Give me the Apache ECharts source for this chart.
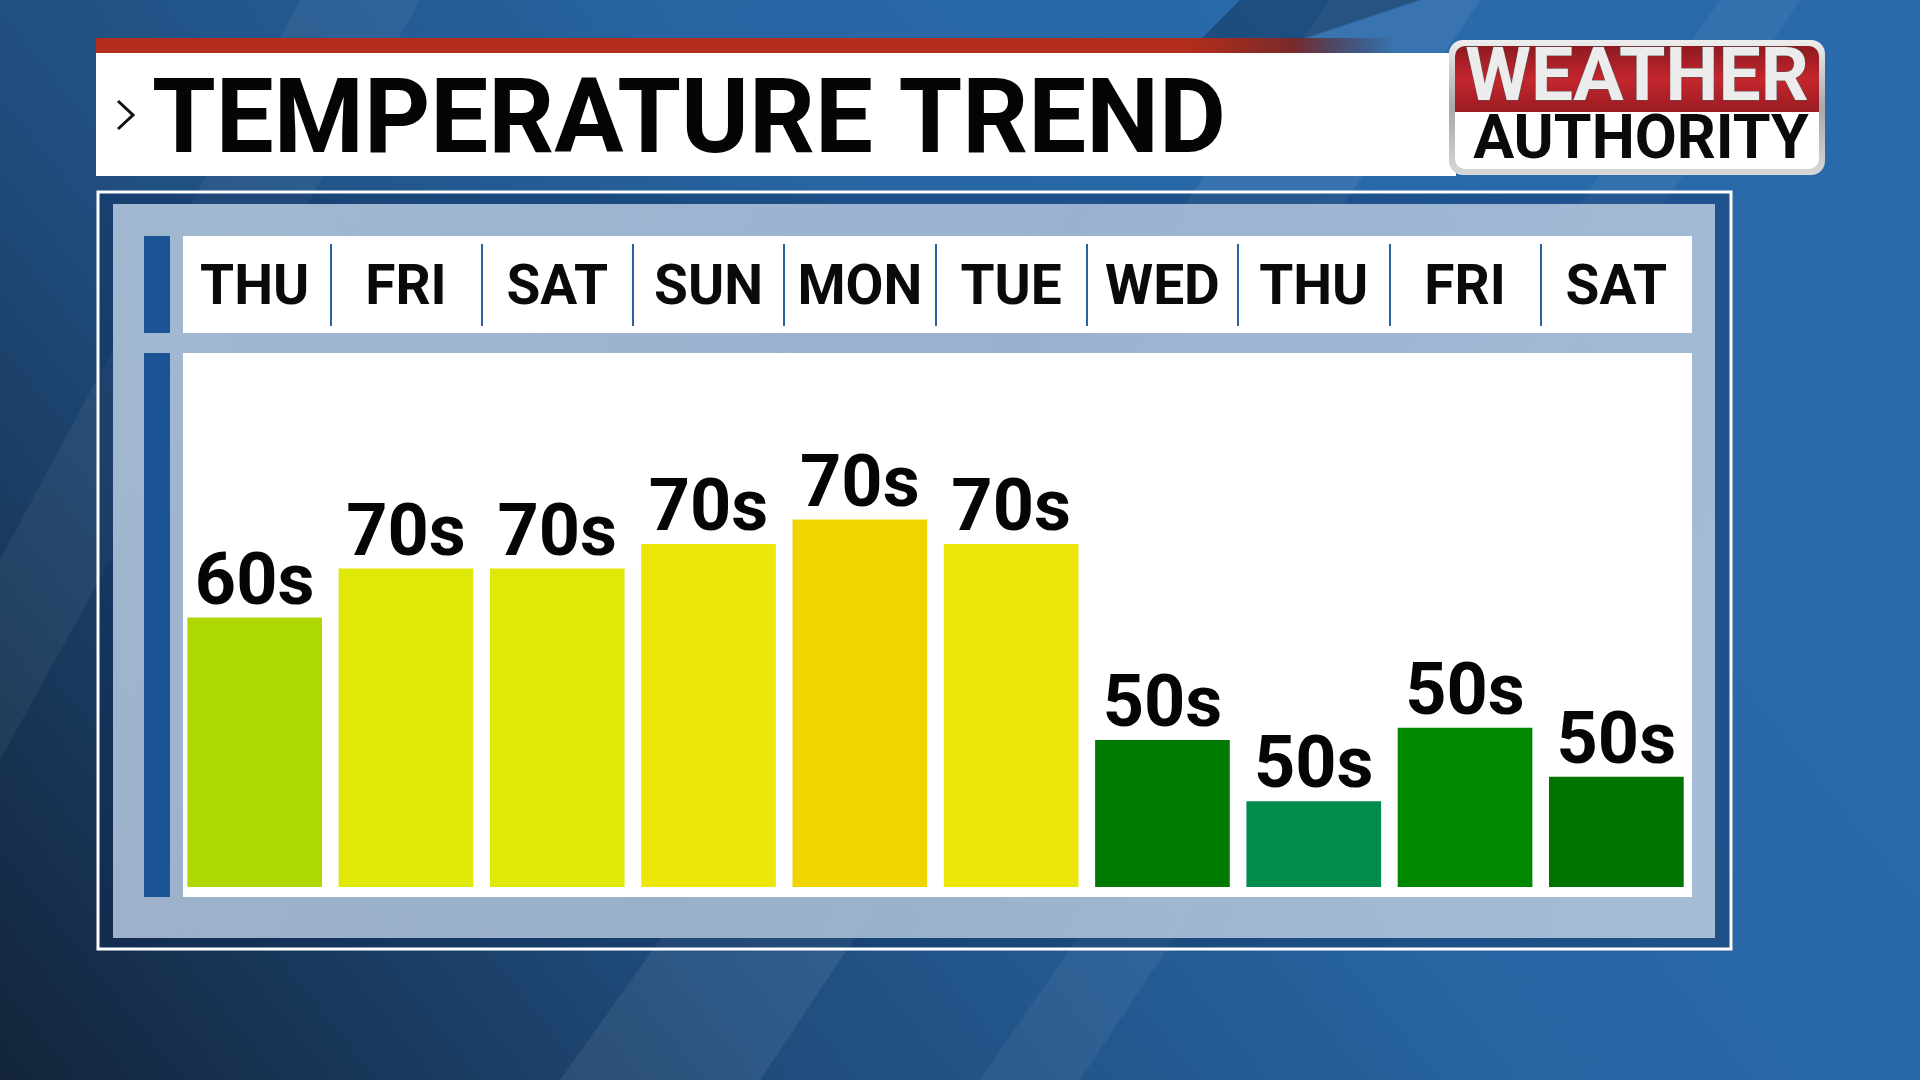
<!DOCTYPE html>
<html>
<head>
<meta charset="utf-8">
<title>Temperature Trend</title>
<script src="https://cdn.jsdelivr.net/npm/echarts@6/dist/echarts.min.js"></script>
<style>
  html, body { margin: 0; padding: 0; width: 1920px; height: 1080px; overflow: hidden; background: #1f4f82; }
  #graph { width: 1920px; height: 1080px; }
</style>
</head>
<body>
<div id="graph"></div>
<script>
// data
var days = ['THU', 'FRI', 'SAT', 'SUN', 'MON', 'TUE', 'WED', 'THU', 'FRI', 'SAT'];
var highs = [68, 72, 72, 74, 76, 74, 58, 53, 59, 55];
var rangeLabels = ['60s', '70s', '70s', '70s', '70s', '70s', '50s', '50s', '50s', '50s'];

var barColors = ['#aed804', '#dfe807', '#dfe807', '#ede60a', '#f0d500', '#ede60a',
                 '#007a00', '#008c4a', '#008800', '#007400'];

var myChart = echarts.init(document.getElementById('graph'));

var FONT = 'Roboto, "Noto Sans", sans-serif';

// separators between day cells: none on the outer edges
var sepColors = days.map(function (d, i) { return i === 0 ? 'rgba(0,0,0,0)' : '#2a5fa0'; });
sepColors.push('rgba(0,0,0,0)');

// background + panels (decoration only)
var deco = [
    { type: 'rect', z: -30, shape: { x: 0, y: 0, width: 1920, height: 1080 },
      style: { fill: new echarts.graphic.LinearGradient(0, 1, 0.7, 0, [
          { offset: 0, color: '#13243a' },
          { offset: 0.35, color: '#1f4c7c' },
          { offset: 0.7, color: '#2765a3' },
          { offset: 1, color: '#2a6aab' }
      ]) } },
    // diagonal streaks
    { type: 'polygon', z: -29, shape: { points: [[560, 1080], [760, 1080], [1480, 0], [1330, 0]] },
      style: { fill: 'rgba(255,255,255,0.07)' } },
    { type: 'polygon', z: -29, shape: { points: [[980, 1080], [1080, 1080], [1800, 0], [1720, 0]] },
      style: { fill: 'rgba(255,255,255,0.05)' } },
    { type: 'polygon', z: -29, shape: { points: [[0, 560], [0, 760], [420, 0], [300, 0]] },
      style: { fill: 'rgba(255,255,255,0.05)' } },
    { type: 'polygon', z: -29, shape: { points: [[1240, 0], [1420, 0], [1300, 40], [1200, 40]] },
      style: { fill: 'rgba(10,25,50,0.35)' } },

    // title bar
    { type: 'rect', z: -20, shape: { x: 96, y: 38, width: 1300, height: 15 },
      style: { fill: new echarts.graphic.LinearGradient(0, 0, 1, 0, [
          { offset: 0, color: '#b22d1b' },
          { offset: 0.84, color: '#b22d1b' },
          { offset: 0.92, color: '#7a2a2a' },
          { offset: 1, color: 'rgba(60,40,60,0)' }
      ]) } },
    { type: 'rect', z: -20, shape: { x: 96, y: 53, width: 1360, height: 123 },
      style: { fill: '#ffffff' } },
    { type: 'polyline', z: -19, shape: { points: [[118, 101], [133, 115], [118, 129]] },
      style: { stroke: '#111', lineWidth: 3, fill: null } },
    { type: 'text', z: -19, style: { text: 'TEMPERATURE TREND', x: 152, y: 126,
      font: 'bold 103px ' + FONT, fill: '#050505', textVerticalAlign: 'middle' } },

    // logo
    { type: 'rect', z: -18, shape: { x: 1449, y: 40, width: 376, height: 135, r: 14 },
      style: { fill: new echarts.graphic.LinearGradient(0, 0, 0, 1, [
          { offset: 0, color: '#eeeeee' }, { offset: 0.5, color: '#a8a8a8' }, { offset: 1, color: '#d8d8d8' }
      ]) } },
    { type: 'rect', z: -17, shape: { x: 1455, y: 46, width: 364, height: 66, r: [10, 10, 0, 0] },
      style: { fill: new echarts.graphic.LinearGradient(0, 0, 0, 1, [
          { offset: 0, color: '#8e1a20' }, { offset: 0.5, color: '#c4262d' }, { offset: 1, color: '#9a1c22' }
      ]) } },
    { type: 'rect', z: -17, shape: { x: 1455, y: 112, width: 364, height: 57, r: [0, 0, 10, 10] },
      style: { fill: '#ffffff' } },
    { type: 'text', z: -16, style: { text: 'WEATHER', x: 1637, y: 81, font: 'bold 75px ' + FONT,
      fill: '#ececec', stroke: '#555', lineWidth: 1, textAlign: 'center', textVerticalAlign: 'middle' } },
    { type: 'text', z: -16, style: { text: 'AUTHORITY', x: 1641, y: 143, font: 'bold 61px ' + FONT,
      fill: '#0a0a0a', textAlign: 'center', textVerticalAlign: 'middle' } },

    // chart frame
    { type: 'rect', z: -15, shape: { x: 98, y: 192, width: 1633, height: 757 },
      style: { fill: 'rgba(12,40,85,0.35)', stroke: '#ffffff', lineWidth: 3 } },
    { type: 'rect', z: -14, shape: { x: 113, y: 204, width: 1602, height: 734 },
      style: { fill: new echarts.graphic.LinearGradient(0, 0, 1, 1, [
          { offset: 0, color: 'rgba(185,205,226,0.85)' },
          { offset: 0.5, color: 'rgba(175,195,218,0.85)' },
          { offset: 1, color: 'rgba(190,208,228,0.85)' }
      ]) } },
    { type: 'rect', z: -13, shape: { x: 144, y: 236, width: 26, height: 97 }, style: { fill: '#1a5494' } },
    { type: 'rect', z: -13, shape: { x: 144, y: 353, width: 26, height: 544 }, style: { fill: '#1a5494' } },
    { type: 'rect', z: -13, shape: { x: 183, y: 236, width: 1509, height: 97 }, style: { fill: '#ffffff' } },
    { type: 'rect', z: -13, shape: { x: 183, y: 353, width: 1509, height: 544 }, style: { fill: '#ffffff' } }
];

var option = {
    animation: false,
    graphic: { elements: deco },
    grid: [
        { left: 179, right: 228, top: 397, bottom: 193 },
        { left: 179, right: 228, top: 244, bottom: 754 }
    ],
    xAxis: [
        {
            type: 'category',
            gridIndex: 0,
            data: days,
            axisLine: { show: false },
            axisTick: { show: false },
            axisLabel: { show: false }
        },
        {
            type: 'category',
            gridIndex: 1,
            data: days,
            axisLine: { show: false },
            axisTick: { show: false },
            axisLabel: {
                show: true,
                interval: 0,
                inside: true,
                margin: 36,
                verticalAlign: 'middle',
                color: '#0a0a0a',
                fontSize: 55,
                fontWeight: 'bold',
                fontFamily: FONT
            },
            splitLine: {
                show: true,
                interval: 0,
                lineStyle: { color: sepColors, width: 2 }
            }
        }
    ],
    yAxis: [
        { type: 'value', gridIndex: 0, min: 46, max: 86, show: false },
        { type: 'value', gridIndex: 1, show: false }
    ],
    series: [
        {
            name: 'High',
            type: 'bar',
            xAxisIndex: 0,
            yAxisIndex: 0,
            barWidth: '89%',
            data: highs.map(function (v, i) {
                return { value: v, itemStyle: { color: barColors[i] } };
            }),
            label: {
                show: true,
                position: 'top',
                distance: -4,
                color: '#050505',
                fontSize: 72,
                fontWeight: 'bold',
                fontFamily: FONT,
                formatter: function (p) { return rangeLabels[p.dataIndex]; }
            }
        }
    ]
};

myChart.setOption(option);
</script>
</body>
</html>
